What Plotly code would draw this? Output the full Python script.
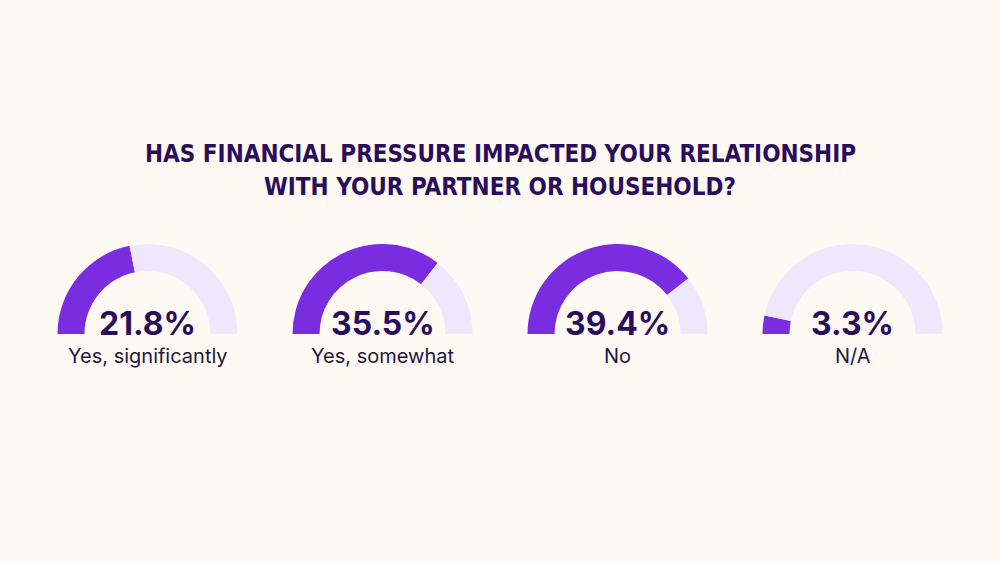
import plotly.graph_objects as go

categories = ["Yes, significantly", "Yes, somewhat", "No", "N/A"]
values = [21.8, 35.5, 39.4, 3.3]
title_lines = ["HAS FINANCIAL PRESSURE IMPACTED YOUR RELATIONSHIP", "WITH YOUR PARTNER OR HOUSEHOLD?"]

BG = "#fef9f3"
FILL = "#7a2de0"
TRACK = "#efe7fc"
DARK = "#2a0e5c"
LABEL = "#1d1740"

W, H = 1000, 563
centers_x = [147.5, 382.5, 617.5, 852.5]
center_y = 334
R = 90

fig = go.Figure()
for cx, cat, v in zip(centers_x, categories, values):
    yb = H - center_y
    # full circle = 100%, upper half visible (50%), lower half transparent
    fig.add_trace(go.Pie(
        values=[v, 50 - v, 50],
        sort=False, direction="clockwise", rotation=270,
        hole=0.7,
        marker=dict(colors=[FILL, TRACK, "rgba(0,0,0,0)"], line=dict(width=0)),
        textinfo="none", hoverinfo="skip", showlegend=False,
        domain=dict(x=[(cx - R) / W, (cx + R) / W], y=[(yb - R) / H, (yb + R) / H]),
    ))
    fig.add_annotation(x=cx / W, y=(H - 323) / H, xref="paper", yref="paper",
                       text=f"<b>{v:.1f}%</b>", showarrow=False,
                       font=dict(family="Inter", size=32, color=DARK),
                       xanchor="center", yanchor="middle")
    fig.add_annotation(x=cx / W, y=(H - 356) / H, xref="paper", yref="paper",
                       text=cat, showarrow=False,
                       font=dict(family="Inter", size=20, color=LABEL),
                       xanchor="center", yanchor="middle")

for line, ty in zip(title_lines, [154.5, 187]):
    fig.add_annotation(x=0.5, y=(H - ty) / H, xref="paper", yref="paper",
                       text="<b>" + line + "</b>", showarrow=False,
                       font=dict(family="DejaVu Sans Condensed, Liberation Sans Narrow, sans-serif",
                                 size=24, color=DARK),
                       xanchor="center", yanchor="middle", align="center")

fig.update_layout(width=W, height=H, margin=dict(l=0, r=0, t=0, b=0),
                  paper_bgcolor=BG, plot_bgcolor=BG)
fig.write_html("out.html", config={"displayModeBar": False},
               post_script="document.body.style.margin='0';document.body.style.background='" + BG + "';")
